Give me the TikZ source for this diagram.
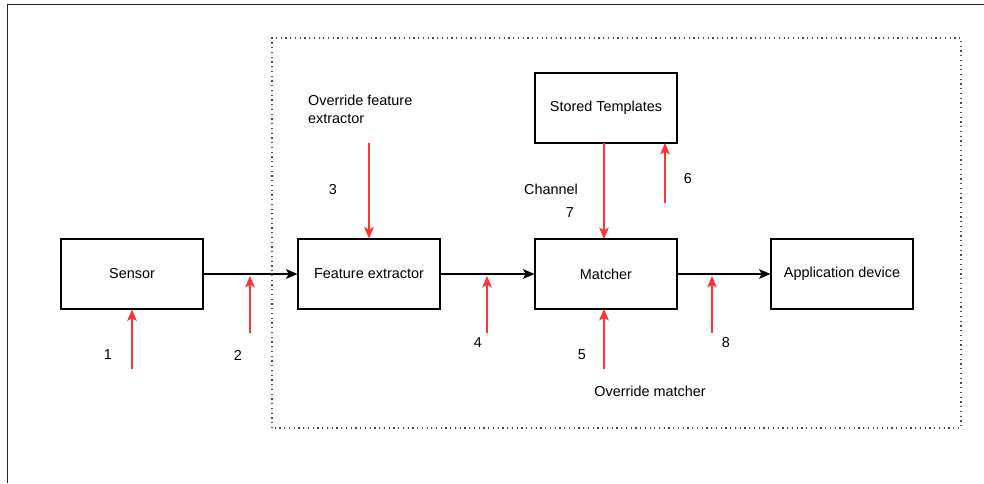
\documentclass[tikz,border=0pt]{standalone}
\usepackage{tikz}
\usepackage{xcolor}
\usepackage{fontspec}
\setmainfont{Liberation Sans}
\usetikzlibrary{arrows.meta}

\begin{document}
\begin{tikzpicture}[blockbox/.style={draw,line width=0.6pt,minimum width=2.84cm,minimum height=1.4cm},
  lbl/.style={font=\fontsize{8.2}{10.2}\selectfont},
  flow/.style={-{Stealth[length=6.5pt,width=5.5pt,inset=1.5pt]},line width=0.6pt},
  attack/.style={-{Stealth[length=6.5pt,width=5.5pt,inset=1.5pt]},line width=0.6pt,draw=attackred,fill=attackred}]
\definecolor{attackred}{HTML}{FF3333}
\useasboundingbox (0,0) rectangle (19.68,9.66);
\draw[line width=1.1pt,black!85] (19.68,9.57) -- (0.15,9.57) -- (0.15,0);
\draw[dotted,line width=0.7pt,black!70] (5.44,1.10) rectangle (19.22,8.90);
  \node [blockbox,lbl] (sensor) at (2.64,4.18) {Sensor};
  \node [blockbox,lbl] (fe) at (7.38,4.18) {Feature extractor};
  \node [blockbox,lbl] (match) at (12.12,4.18) {Matcher};
  \node [blockbox,lbl] (app) at (16.84,4.18) {Application device};
  \node [blockbox,lbl] (stored) at (12.12,7.50) {Stored Templates};
  \draw [flow] (sensor) -- (fe);
  \draw [flow] (fe) -- (match);
  \draw [flow] (match) -- (app);
% attack points
\coordinate (a1) at (2.64,2.28);
\coordinate (a2) at (5.00,3.00);   \coordinate (t2) at (5.00,4.14);
\coordinate (a3) at (7.38,6.80);
\coordinate (a4) at (9.74,3.00);   \coordinate (t4) at (9.74,4.14);
\coordinate (a5) at (12.08,2.28);  \coordinate (t5) at (12.08,3.48);
\coordinate (a6) at (13.30,5.60);  \coordinate (t6) at (13.30,6.80);
\coordinate (a7) at (12.08,6.80);  \coordinate (t7) at (12.08,4.88);
\coordinate (a8) at (14.24,3.00);  \coordinate (t8) at (14.24,4.14);
  \draw [attack] (a1) -- (sensor.south);
  \draw [attack] (a2) -- (t2);
  \draw [attack] (a3) -- (fe.north);
  \draw [attack] (a4) -- (t4);
  \draw [attack] (a5) -- (t5);
  \draw [attack] (a6) -- (t6);
  \draw [attack] (a7) -- (t7);
  \draw [attack] (a8) -- (t8);
  \foreach \num/\pos in {1/{2.16,2.56},2/{4.76,2.56},3/{6.66,5.86},4/{9.56,2.80},5/{11.64,2.56},6/{13.76,6.08},7/{11.40,5.40},8/{14.52,2.80}}
  {  \node [lbl] (n\num) at (\pos) {\num};}
\node [lbl,anchor=west,align=left] (ovfe) at (6.04,7.48) {Override feature\\extractor};
\node [lbl] (ovm) at (13.00,1.84) {Override matcher};
\node [lbl] (chan) at (11.02,5.88) {Channel};
\end{tikzpicture}
\end{document}
